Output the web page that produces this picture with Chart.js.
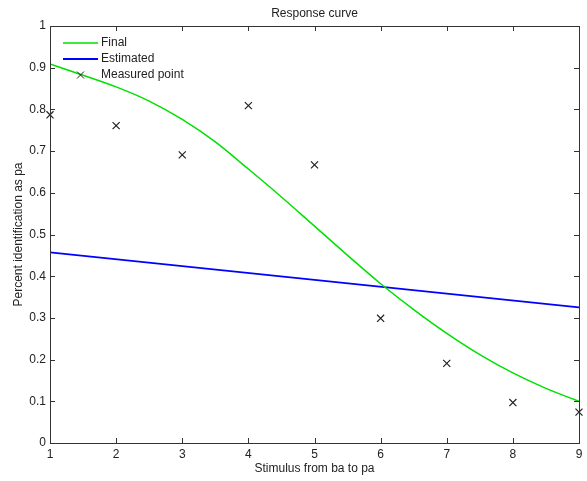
<!DOCTYPE html>
<html>
<head>
<meta charset="utf-8">
<script src="https://cdn.jsdelivr.net/npm/chart.js@4"></script>
<style>
  html, body { margin: 0; background: #fff; }
</style>
</head>
<body>
<canvas id="curve" width="587" height="481"></canvas>
<script>
// data
const stimulus = [1, 2, 3, 4, 5, 6, 7, 8, 9];
const measured = [0.787, 0.761, 0.691, 0.809, 0.667, 0.299, 0.191, 0.097, 0.074];
const finalX = [1, 1.5, 2, 2.5, 3, 3.5, 4, 4.5, 5, 5.5, 6, 6.5, 7, 7.5, 8, 8.5, 9];
const finalY = [0.909, 0.882, 0.854, 0.820, 0.776, 0.722, 0.657, 0.590, 0.520, 0.450, 0.382, 0.320, 0.263, 0.212, 0.168, 0.131, 0.100];
const estimatedX = [1, 9];
const estimatedY = [0.457, 0.325];
const xTicks = [1, 2, 3, 4, 5, 6, 7, 8, 9];
const yTicks = [0, 0.1, 0.2, 0.3, 0.4, 0.5, 0.6, 0.7, 0.8, 0.9, 1];
const yTickLabels = ['0', '0.1', '0.2', '0.3', '0.4', '0.5', '0.6', '0.7', '0.8', '0.9', '1'];

const FONT = '"Liberation Sans", Arial, sans-serif';
Chart.defaults.font.family = FONT;
Chart.defaults.font.size = 12;
Chart.defaults.color = '#222';

function crossAt(ctx, x, y, r) {
  ctx.beginPath();
  ctx.moveTo(x - r, y - r); ctx.lineTo(x + r, y + r);
  ctx.moveTo(x - r, y + r); ctx.lineTo(x + r, y - r);
  ctx.stroke();
}

// box around the axes, inward ticks, title and legend (matlab look)
const matlabFrame = {
  id: 'matlabFrame',
  afterDraw(chart) {
    const { ctx, chartArea: a, scales } = chart;
    ctx.save();
    ctx.strokeStyle = '#333';
    ctx.lineWidth = 1;
    ctx.strokeRect(a.left + 0.5, a.top + 0.5, a.right - a.left, a.bottom - a.top);
    ctx.beginPath();
    xTicks.forEach(v => {
      const px = Math.round(scales.x.getPixelForValue(v)) + 0.5;
      ctx.moveTo(px, a.bottom); ctx.lineTo(px, a.bottom - 5);
      ctx.moveTo(px, a.top); ctx.lineTo(px, a.top + 5);
    });
    yTicks.forEach(v => {
      const py = Math.round(scales.y.getPixelForValue(v)) + 0.5;
      ctx.moveTo(a.left, py); ctx.lineTo(a.left + 5, py);
      ctx.moveTo(a.right, py); ctx.lineTo(a.right - 5, py);
    });
    ctx.stroke();

    ctx.fillStyle = '#222';
    ctx.font = '12px ' + FONT;
    ctx.textAlign = 'center';
    ctx.textBaseline = 'middle';
    ctx.fillText('Response curve', (a.left + a.right) / 2, 14);

    // legend, top left inside the axes
    ctx.textAlign = 'left';
    chart.data.datasets.forEach((ds, i) => {
      const y = 43 + i * 16;
      const x0 = a.left + 13, x1 = a.left + 48;
      if (ds.showLine === false) {
        ctx.strokeStyle = '#222';
        crossAt(ctx, (x0 + x1) / 2, y, 3.5);
      } else {
        ctx.strokeStyle = ds.borderColor;
        ctx.lineWidth = ds.borderWidth;
        ctx.beginPath(); ctx.moveTo(x0, y); ctx.lineTo(x1, y); ctx.stroke();
        ctx.lineWidth = 1;
      }
      ctx.fillText(ds.label, x1 + 3, y);
    });
    ctx.restore();
  }
};

new Chart(document.getElementById('curve'), {
  type: 'scatter',
  data: {
    datasets: [
      {
        label: 'Final',
        data: finalX.map((x, i) => ({ x, y: finalY[i] })),
        showLine: true,
        borderColor: '#00e000',
        borderWidth: 1.5,
        pointRadius: 0,
        cubicInterpolationMode: 'monotone'
      },
      {
        label: 'Estimated',
        data: estimatedX.map((x, i) => ({ x, y: estimatedY[i] })),
        showLine: true,
        borderColor: '#0000ff',
        borderWidth: 1.8,
        pointRadius: 0
      },
      {
        label: 'Measured point',
        data: stimulus.map((x, i) => ({ x, y: measured[i] })),
        showLine: false,
        pointStyle: 'crossRot',
        pointRadius: 5,
        borderColor: '#222',
        borderWidth: 1.2,
        clip: false
      }
    ]
  },
  options: {
    responsive: false,
    animation: false,
    layout: { padding: { top: 26, right: 8, left: 0, bottom: 0 } },
    plugins: { legend: { display: false }, title: { display: false }, tooltip: { enabled: false } },
    scales: {
      x: {
        type: 'linear',
        min: 1, max: 9,
        afterBuildTicks: s => { s.ticks = xTicks.map(v => ({ value: v })); },
        afterFit: s => { s.height = 38; },
        ticks: { padding: 4, maxRotation: 0, callback: v => String(v) },
        grid: { drawOnChartArea: false, drawTicks: false },
        border: { display: false },
        title: { display: true, text: 'Stimulus from ba to pa', padding: { top: 0, bottom: 5 } }
      },
      y: {
        min: 0, max: 1,
        afterBuildTicks: s => { s.ticks = yTicks.map(v => ({ value: v })); },
        afterFit: s => { s.width = 50; },
        ticks: { padding: 4, callback: (v, i) => yTickLabels[i] },
        grid: { drawOnChartArea: false, drawTicks: false },
        border: { display: false },
        title: { display: true, text: 'Percent identification as pa', padding: { top: 11, bottom: 0 } }
      }
    }
  },
  plugins: [matlabFrame]
});
</script>
</body>
</html>
